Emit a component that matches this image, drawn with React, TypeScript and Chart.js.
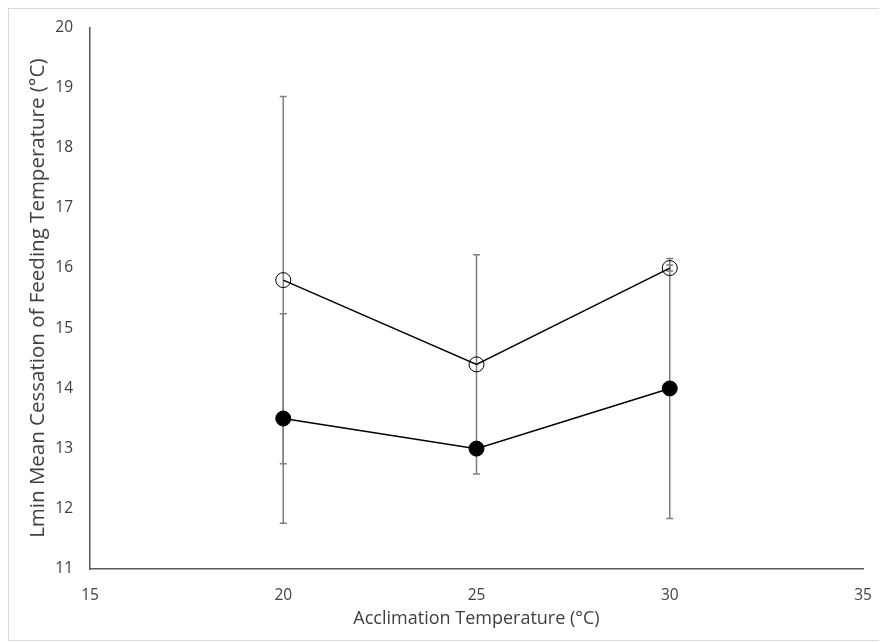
import React, { useEffect, useRef } from "react";
import { Chart, registerables } from "chart.js";

Chart.register(...registerables);

const acclimationTemps = [20, 25, 30];
const openMeans = [15.8, 14.4, 16.0];
const openErrors = [3.05, 1.82, 0.05];
const filledMeans = [13.5, 13.0, 14.0];
const filledErrors = [1.74, 0.05, 2.16];

const xTitle = "Acclimation Temperature (°C)";
const yTitle = "Lmin Mean Cessation of Feeding Temperature (°C)";

const FONT = "'Open Sans', 'Liberation Sans', sans-serif";
const TEXT = "#404040";

const errorBarPlugin = {
  id: "errorBars",
  beforeDatasetsDraw(chart: any) {
    const { ctx, scales } = chart;
    const xs = scales.x;
    const ys = scales.y;
    chart.data.datasets.forEach((ds: any) => {
      const errs: number[] = ds.errors || [];
      ds.data.forEach((p: any, i: number) => {
        const e = errs[i] || 0;
        if (!e) return;
        const x = xs.getPixelForValue(p.x);
        const yTop = ys.getPixelForValue(p.y + e);
        const yBot = ys.getPixelForValue(p.y - e);
        ctx.save();
        ctx.strokeStyle = "#7f7f7f";
        ctx.lineWidth = 1.5;
        ctx.beginPath();
        ctx.moveTo(x, yTop);
        ctx.lineTo(x, yBot);
        ctx.moveTo(x - 3.5, yTop);
        ctx.lineTo(x + 3.5, yTop);
        ctx.moveTo(x - 3.5, yBot);
        ctx.lineTo(x + 3.5, yBot);
        ctx.stroke();
        ctx.restore();
      });
    });
  },
};

export default function App() {
  const ref = useRef<HTMLCanvasElement>(null);

  useEffect(() => {
    if (!ref.current) return;
    const chart = new Chart(ref.current, {
      type: "line",
      data: {
        datasets: [
          {
            label: "Open",
            data: acclimationTemps.map((x, i) => ({ x, y: openMeans[i] })),
            errors: openErrors,
            borderColor: "#000000",
            borderWidth: 1.5,
            pointRadius: 7.5,
            pointBorderWidth: 1,
            pointBorderColor: "#000000",
            pointBackgroundColor: "rgba(255,255,255,0)",
            showLine: true,
            tension: 0,
          } as any,
          {
            label: "Filled",
            data: acclimationTemps.map((x, i) => ({ x, y: filledMeans[i] })),
            errors: filledErrors,
            borderColor: "#000000",
            borderWidth: 1.5,
            pointRadius: 7.5,
            pointBorderWidth: 1,
            pointBorderColor: "#000000",
            pointBackgroundColor: "#000000",
            showLine: true,
            tension: 0,
          } as any,
        ],
      },
      options: {
        animation: false,
        responsive: false,
        maintainAspectRatio: false,
        layout: { padding: { left: 0, right: 22, top: 12, bottom: 0 } },
        plugins: {
          legend: { display: false },
          tooltip: { enabled: false },
        },
        scales: {
          x: {
            type: "linear",
            min: 15,
            max: 35,
            ticks: { stepSize: 5, color: TEXT, font: { family: FONT, size: 15.5 }, padding: 9 },
            grid: { display: false },
            border: { display: true, color: "#595959", width: 1.5 },
            title: {
              display: true,
              text: xTitle,
              color: TEXT,
              font: { family: FONT, size: 18 },
              padding: { top: 0, bottom: 10 },
            },
            afterFit: (s: any) => {
              s.height = 71;
            },
          },
          y: {
            type: "linear",
            min: 11,
            max: 20,
            ticks: { stepSize: 1, color: TEXT, font: { family: FONT, size: 15.5 }, padding: 9 },
            grid: { display: false },
            border: { display: true, color: "#595959", width: 1.5 },
            title: {
              display: true,
              text: yTitle,
              color: TEXT,
              font: { family: FONT, size: 20.5 },
              padding: { top: 17, bottom: 0 },
            },
            afterFit: (s: any) => {
              s.width = 81;
            },
          },
        },
      } as any,
      plugins: [errorBarPlugin],
    });
    return () => chart.destroy();
  }, []);

  return (
    <div
      style={{
        width: 876,
        height: 631,
        border: "1px solid #d9d9d9",
        background: "#ffffff",
      }}
    >
      <canvas ref={ref} width={876} height={631} style={{ display: "block" }} />
    </div>
  );
}
